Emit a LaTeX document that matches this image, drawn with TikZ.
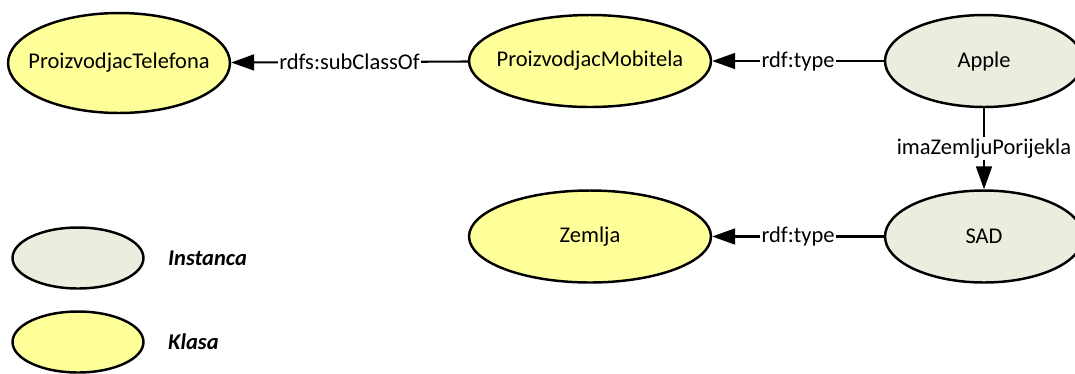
\documentclass[tikz,border=0pt]{standalone}
\usepackage{fontspec}
\setmainfont{Carlito}
\usetikzlibrary{shapes.geometric,arrows.meta}
\definecolor{klasaboja}{RGB}{255,255,153}
\definecolor{instboja}{RGB}{235,238,222}
\begin{document}
\begin{tikzpicture}[x=0.02cm, y=-0.02cm,
    every node/.style={font=\fontsize{12.8}{15}\selectfont},
    klasa/.style={draw, ellipse, line width=1.4pt, fill=klasaboja, inner xsep=-14pt, inner ysep=0pt, minimum width=4.84cm, minimum height=1.84cm},
    instanca/.style={draw, ellipse, line width=1.4pt, fill=instboja, inner xsep=-14pt, inner ysep=0pt, minimum width=3.96cm, minimum height=1.84cm},
    veza/.style={fill=white, inner sep=1pt},
    ->/.style={line width=1.2pt, -{Triangle[length=13pt, width=9pt]}}]
    \useasboundingbox (0,0) rectangle (1075,373);
    \node at (119,63) [klasa, minimum width=4.44cm, minimum height=2cm] (PT) {ProizvodjacTelefona};
    \node at (590,61) [klasa] (PM) {ProizvodjacMobitela};
    \node at (984,61) [instanca] (A) {Apple};
    \node at (590,236.5) [klasa] (Z) {Zemlja};
    \node at (984,236.5) [instanca] (S) {SAD};
    \draw[->] (PM) -- (PT) node[midway, veza] {rdfs:subClassOf};
    \draw[->] (A) -- (PM) node[midway, veza] {rdf:type};
    \draw[->] (S) -- (Z) node[midway, veza] {rdf:type};
    \draw[->] (A) -- (S) node[midway, veza] {imaZemljuPorijekla};
    % legenda
    \node at (78,258) [instanca, minimum width=2.62cm, minimum height=1.22cm] (LI) {};
    \node at (162,258) [anchor=west] (TI) {\textbf{\textit{Instanca}}};
    \node at (78,342) [klasa, minimum width=2.62cm, minimum height=1.22cm] (LK) {};
    \node at (162,342) [anchor=west] (TK) {\textbf{\textit{Klasa}}};
\end{tikzpicture}
\end{document}
